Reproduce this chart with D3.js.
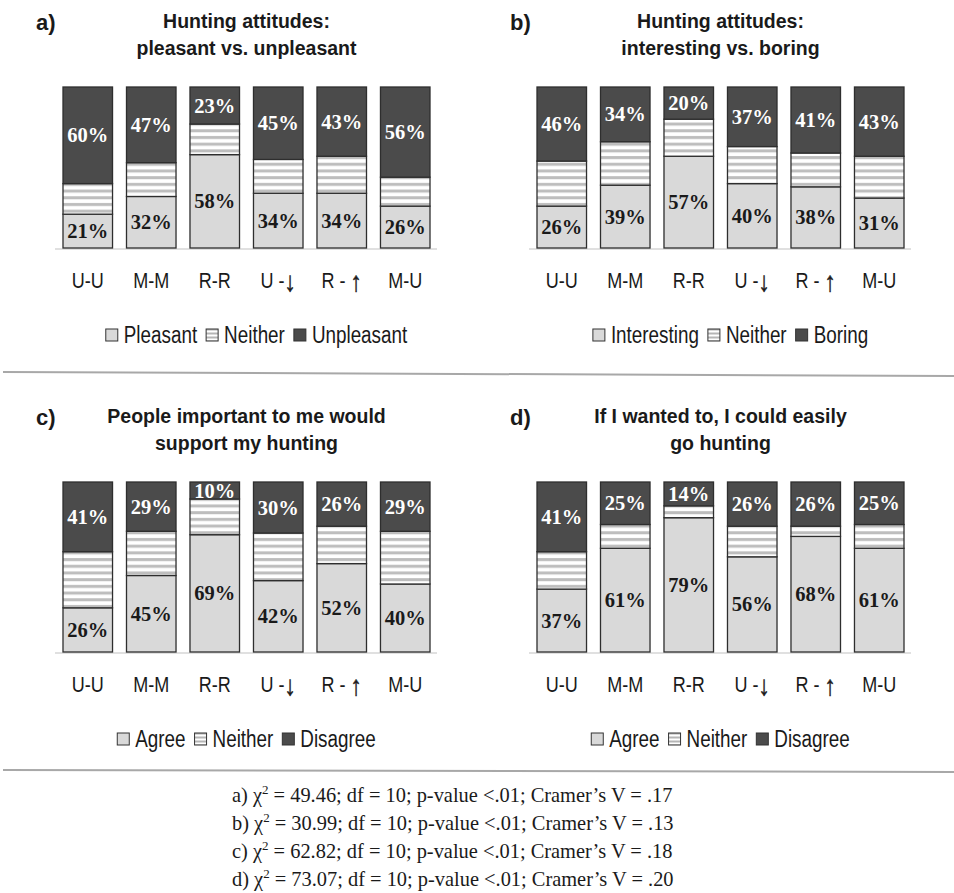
<!DOCTYPE html>
<html>
<head>
<meta charset="utf-8">
<script src="https://cdn.jsdelivr.net/npm/d3@7"></script>
<style>
  body { margin: 0; background: #fff; }
  svg { display: block; }
</style>
</head>
<body>
<svg id="chart" width="954" height="893"></svg>
<script>
// categories shared by all four panels
const categories = ["U-U", "M-M", "R-R", "U -\u2193", "R - \u2191", "M-U"];

// a) pleasant vs unpleasant
const pleasant   = [21, 32, 58, 34, 34, 26];
const neitherA   = [19, 21, 19, 21, 23, 18];
const unpleasant = [60, 47, 23, 45, 43, 56];

// b) interesting vs boring
const interesting = [26, 39, 57, 40, 38, 31];
const neitherB    = [28, 27, 23, 23, 21, 26];
const boring      = [46, 34, 20, 37, 41, 43];

// c) people important to me would support my hunting
const agreeC    = [26, 45, 69, 42, 52, 40];
const neitherC  = [33, 26, 21, 28, 22, 31];
const disagreeC = [41, 29, 10, 30, 26, 29];

// d) if I wanted to, I could easily go hunting
const agreeD    = [37, 61, 79, 56, 68, 61];
const neitherD  = [22, 14, 7, 18, 6, 14];
const disagreeD = [41, 25, 14, 26, 26, 25];

// chi-square stats under the panels
const statLetters = ["a)", "b)", "c)", "d)"];
const chiSq = ["49.46", "30.99", "62.82", "73.07"];
const dfs = ["10", "10", "10", "10"];
const cramerV = [".17", ".13", ".18", ".20"];

const panels = [
  { letter: "a)", title: ["Hunting attitudes:", "pleasant vs. unpleasant"],
    keys: ["Pleasant", "Neither", "Unpleasant"], series: [pleasant, neitherA, unpleasant],
    x0: 63, top: 87, bottom: 248, dy: 0, legendShift: 10 },
  { letter: "b)", title: ["Hunting attitudes:", "interesting vs. boring"],
    keys: ["Interesting", "Neither", "Boring"], series: [interesting, neitherB, boring],
    x0: 537, top: 87, bottom: 248, dy: 0, legendShift: 10 },
  { letter: "c)", title: ["People important to me would", "support my hunting"],
    keys: ["Agree", "Neither", "Disagree"], series: [agreeC, neitherC, disagreeC],
    x0: 63, top: 482, bottom: 652, dy: 395, legendShift: 0 },
  { letter: "d)", title: ["If I wanted to, I could easily", "go hunting"],
    keys: ["Agree", "Neither", "Disagree"], series: [agreeD, neitherD, disagreeD],
    x0: 537, top: 482, bottom: 652, dy: 395, legendShift: 0 }
];

const sans = "'Liberation Sans', Arial, sans-serif";
const serif = "'Liberation Serif', 'Times New Roman', serif";
const lightFill = "#d9d9d9", darkFill = "#4b4b4b", edge = "#2e2e2e";
const narrow = 0.82;   // squeeze factor to mimic Arial Narrow

const svg = d3.select("#chart");

// striped fill for "Neither"
const defs = svg.append("defs");
const pat = defs.append("pattern")
  .attr("id", "stripes")
  .attr("patternUnits", "userSpaceOnUse")
  .attr("width", 8).attr("height", 6.7);
pat.append("rect").attr("width", 8).attr("height", 6.7).attr("fill", "#fff");
pat.append("rect").attr("y", 2).attr("width", 8).attr("height", 3).attr("fill", "#bdbdbd");

const pat2 = defs.append("pattern")
  .attr("id", "stripesSmall")
  .attr("patternUnits", "userSpaceOnUse")
  .attr("width", 4).attr("height", 4);
pat2.append("rect").attr("width", 4).attr("height", 4).attr("fill", "#fff");
pat2.append("rect").attr("y", 1.5).attr("width", 4).attr("height", 2).attr("fill", "#b5b5b5");

const fills = [lightFill, "url(#stripes)", darkFill];
const swatchFills = [lightFill, "url(#stripesSmall)", darkFill];

panels.forEach(p => {
  const g = svg.append("g");
  const x = d3.scaleBand().domain(categories).range([p.x0, p.x0 + 367]).paddingInner(0.22).paddingOuter(0);
  const y = d3.scaleLinear().domain([0, 100]).range([p.bottom, p.top]);
  const cx = p.x0 + 367 / 2;

  // panel letter
  g.append("text")
    .attr("x", p.x0 - 27).attr("y", 30 + p.dy)
    .attr("font-family", sans).attr("font-weight", "bold").attr("font-size", 22)
    .attr("fill", "#1a1a1a")
    .text(p.letter);

  // title
  p.title.forEach((line, i) => {
    g.append("text")
      .attr("x", cx).attr("y", 28 + i * 27 + p.dy)
      .attr("text-anchor", "middle")
      .attr("font-family", sans).attr("font-weight", "bold").attr("font-size", 19.5)
      .attr("fill", "#1a1a1a")
      .text(line);
  });

  // baseline
  g.append("line")
    .attr("x1", p.x0 - 8).attr("x2", p.x0 + 374)
    .attr("y1", p.bottom + 1).attr("y2", p.bottom + 1)
    .attr("stroke", "#e0e0e0").attr("stroke-width", 2);

  // stacked segments
  const stack = d3.stack().keys([0, 1, 2]).value((d, k) => p.series[k][d])(d3.range(categories.length));
  stack.forEach((layer, k) => {
    g.selectAll(null)
      .data(layer)
      .enter()
      .append("rect")
      .attr("x", (d, i) => x(categories[i]))
      .attr("width", x.bandwidth())
      .attr("y", d => y(d[1]))
      .attr("height", d => y(d[0]) - y(d[1]))
      .attr("fill", fills[k])
      .attr("stroke", edge)
      .attr("stroke-width", 1.3);
  });

  // percentage labels for first and last segment
  [0, 2].forEach(k => {
    g.selectAll(null)
      .data(stack[k])
      .enter()
      .append("text")
      .attr("x", (d, i) => x(categories[i]) + x.bandwidth() / 2)
      .attr("y", d => (y(d[0]) + y(d[1])) / 2 + 7)
      .attr("text-anchor", "middle")
      .attr("font-family", serif).attr("font-weight", "bold").attr("font-size", 20.5)
      .attr("fill", k === 2 ? "#fff" : "#1a1a1a")
      .text((d, i) => p.series[k][i] + "%");
  });

  // category labels (arrows drawn a bit larger, like the original)
  g.selectAll(null)
    .data(categories)
    .enter()
    .append("text")
    .attr("transform", d => `translate(${x(d) + x.bandwidth() / 2},${p.bottom + 40}) scale(${narrow},1)`)
    .attr("text-anchor", "middle")
    .attr("font-family", sans).attr("font-size", 22)
    .attr("fill", "#1a1a1a")
    .each(function(d) {
      const t = d3.select(this);
      d.split(/([\u2191\u2193])/).filter(s => s).forEach(s => {
        const isArrow = /[\u2191\u2193]/.test(s);
        t.append("tspan")
          .attr("font-size", isArrow ? 28 : null)
          .attr("dy", isArrow ? 3 : null)
          .attr("stroke", isArrow ? "#1a1a1a" : null)
          .attr("stroke-width", isArrow ? 0.5 : null)
          .text(s);
      });
    });

  // legend
  const lg = g.append("g");
  let lx = 0;
  p.keys.forEach((key, k) => {
    lg.append("rect")
      .attr("x", lx).attr("y", -14)
      .attr("width", 12).attr("height", 12)
      .attr("fill", swatchFills[k]).attr("stroke", "#333").attr("stroke-width", 1);
    const t = lg.append("text")
      .attr("transform", `translate(${lx + 18},0) scale(${narrow},1)`)
      .attr("font-family", sans).attr("font-size", 23)
      .attr("fill", "#1a1a1a")
      .text(key);
    lx += 18 + t.node().getComputedTextLength() * narrow + 9;
  });
  const lw = lx - 9;
  lg.attr("transform", `translate(${cx + p.legendShift - lw / 2},${p.bottom + 95})`);
});

// separators
[[372, 376], [770, 772]].forEach(([y1, y2]) => {
  svg.append("line")
    .attr("x1", 3).attr("x2", 954).attr("y1", y1).attr("y2", y2)
    .attr("stroke", "#a8a8a8").attr("stroke-width", 2);
});

// statistics text
const stats = svg.append("g");
statLetters.forEach((l, i) => {
  const t = stats.append("text")
    .attr("x", 232).attr("y", 802 + i * 28)
    .attr("font-family", serif).attr("font-size", 20.4)
    .attr("fill", "#1a1a1a");
  t.append("tspan").text(`${l} \u03c7`);
  t.append("tspan").attr("dy", -8).attr("font-size", 13).text("2");
  t.append("tspan").attr("dy", 8).text(` = ${chiSq[i]}; df = ${dfs[i]}; p-value <.01; Cramer\u2019s V = ${cramerV[i]}`);
});
</script>
</body>
</html>
